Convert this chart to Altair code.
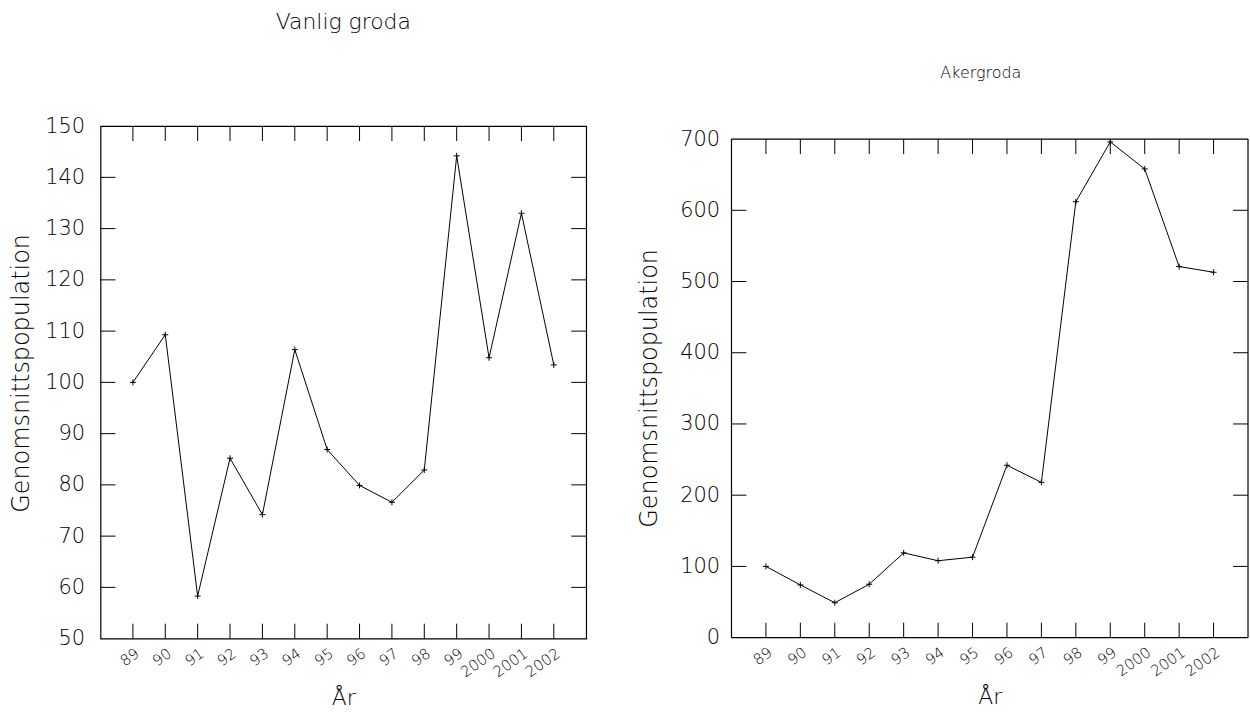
import altair as alt
import pandas as pd

years = ["89", "90", "91", "92", "93", "94", "95", "96", "97", "98", "99", "2000", "2001", "2002"]
vanlig = [100.0, 109.3, 58.3, 85.2, 74.2, 106.4, 86.9, 79.9, 76.6, 82.9, 144.2, 104.8, 133.0, 103.4]
aker = [100, 74, 49, 75, 119, 108, 113, 242, 218, 612, 696, 658, 521, 513]
left_ticks = [50, 60, 70, 80, 90, 100, 110, 120, 130, 140, 150]
right_ticks = [0, 100, 200, 300, 400, 500, 600, 700]

FONT = "DejaVu Sans"
WEIGHT = 200
TICK = 15
PLUS = "M-1,0H1M0,-1V1"

W1, H1 = 488, 515
W2, H2 = 519, 514
RIGHT_TOP = 700
RIGHT_MAX = 718.2  # extra room above 700 so the frame sits lower than the left panel

df1 = pd.DataFrame({"year": years, "value": vanlig})
df2 = pd.DataFrame({"year": years, "value": aker})
one = pd.DataFrame({"a": [0]})

XSORT = alt.X("year:O", sort=years)


def xmain():
    ax = alt.Axis(title="År", labelAngle=325, ticks=False, domain=False, grid=False,
                  labelFontSize=15, labelPadding=7, labelFont=FONT, labelColor="black",
                  labelFontWeight=WEIGHT, labelAlign="right", labelBaseline="top",
                  titleFont=FONT, titleFontSize=22, titleFontWeight=WEIGHT,
                  titleColor="black", titleY=66, titleBaseline="alphabetic")
    return alt.X("year:O", sort=years, scale=alt.Scale(type="point", padding=1), axis=ax)


def panel(df, W, H, domain, yvals, inner_ticks, title_text, title_size, title_offset, title_dx,
          label_pad, title_x, title_y, custom_frame):
    y_axis = alt.Axis(values=yvals, ticks=False, domain=False, grid=False,
                      labelFontSize=21, labelPadding=label_pad, labelFont=FONT, labelColor="black",
                      labelFontWeight=WEIGHT,
                      title="Genomsnittspopulation", titleFont=FONT, titleFontSize=24,
                      titleFontWeight=WEIGHT, titleColor="black", titleX=title_x, titleY=title_y,
                      titleAngle=270, titleAlign="center", titleBaseline="middle")
    yscale = alt.Scale(domain=domain, nice=False, zero=False)
    base = alt.Chart(df)
    line = base.mark_line(color="black", strokeWidth=1).encode(
        x=xmain(), y=alt.Y("value:Q", scale=yscale, axis=y_axis))
    pts = base.mark_point(shape=PLUS, size=36, color="black", strokeWidth=1, filled=False, opacity=1).encode(
        x=XSORT, y=alt.Y("value:Q"))

    tdf = pd.DataFrame({"value": inner_ticks})
    if custom_frame:
        xt_top = base.mark_rule(color="black", strokeWidth=1, y2Offset=TICK).encode(
            x=XSORT, y=alt.datum(RIGHT_TOP), y2=alt.datum(RIGHT_TOP))
    else:
        xt_top = base.mark_rule(color="black", strokeWidth=1).encode(
            x=XSORT, y=alt.value(0), y2=alt.value(TICK))
    xt_bot = base.mark_rule(color="black", strokeWidth=1).encode(
        x=XSORT, y=alt.value(H), y2=alt.value(H - TICK))
    yt_left = alt.Chart(tdf).mark_rule(color="black", strokeWidth=1).encode(
        y=alt.Y("value:Q"), x=alt.value(0), x2=alt.value(TICK))
    yt_right = alt.Chart(tdf).mark_rule(color="black", strokeWidth=1).encode(
        y=alt.Y("value:Q"), x=alt.value(W - TICK), x2=alt.value(W))
    layers = [line, pts, xt_top, xt_bot, yt_left, yt_right]
    if custom_frame:
        fr = alt.Chart(one)
        layers += [
            fr.mark_rule(color="black", strokeWidth=1.2).encode(
                y=alt.datum(RIGHT_TOP), x=alt.value(0), x2=alt.value(W)),
            fr.mark_rule(color="black", strokeWidth=1.2).encode(
                y=alt.value(H), x=alt.value(0), x2=alt.value(W)),
            fr.mark_rule(color="black", strokeWidth=1.2).encode(
                x=alt.value(0), y=alt.datum(0), y2=alt.datum(RIGHT_TOP)),
            fr.mark_rule(color="black", strokeWidth=1.2).encode(
                x=alt.value(W), y=alt.datum(0), y2=alt.datum(RIGHT_TOP)),
        ]
        view = alt.ViewBackground(stroke="transparent")
    else:
        view = alt.ViewBackground(stroke="black", strokeWidth=1.2)
    return alt.layer(*layers).properties(
        width=W, height=H, view=view,
        title=alt.TitleParams(title_text, font=FONT, fontSize=title_size, fontWeight=WEIGHT,
                              color="black", anchor="middle", offset=title_offset,
                              baseline="alphabetic", dx=title_dx))


left = panel(df1, W1, H1, [50, 150], left_ticks, left_ticks[1:-1], "Vanlig groda", 22,
             65, 0, 16, -79, 248, False)
right = panel(df2, W2, H2, [0, RIGHT_MAX], right_ticks, right_ticks[1:-1], "Akergroda", 16,
              32, -9, 12, -82, 263, True)

chart = alt.hconcat(left, right, spacing=49).properties(
    padding={"left": 9, "top": 8, "right": 0, "bottom": 0}
).configure(background="white").configure_view(stroke="transparent")

chart.save("out.html", embed_options={"renderer": "svg", "actions": False})
